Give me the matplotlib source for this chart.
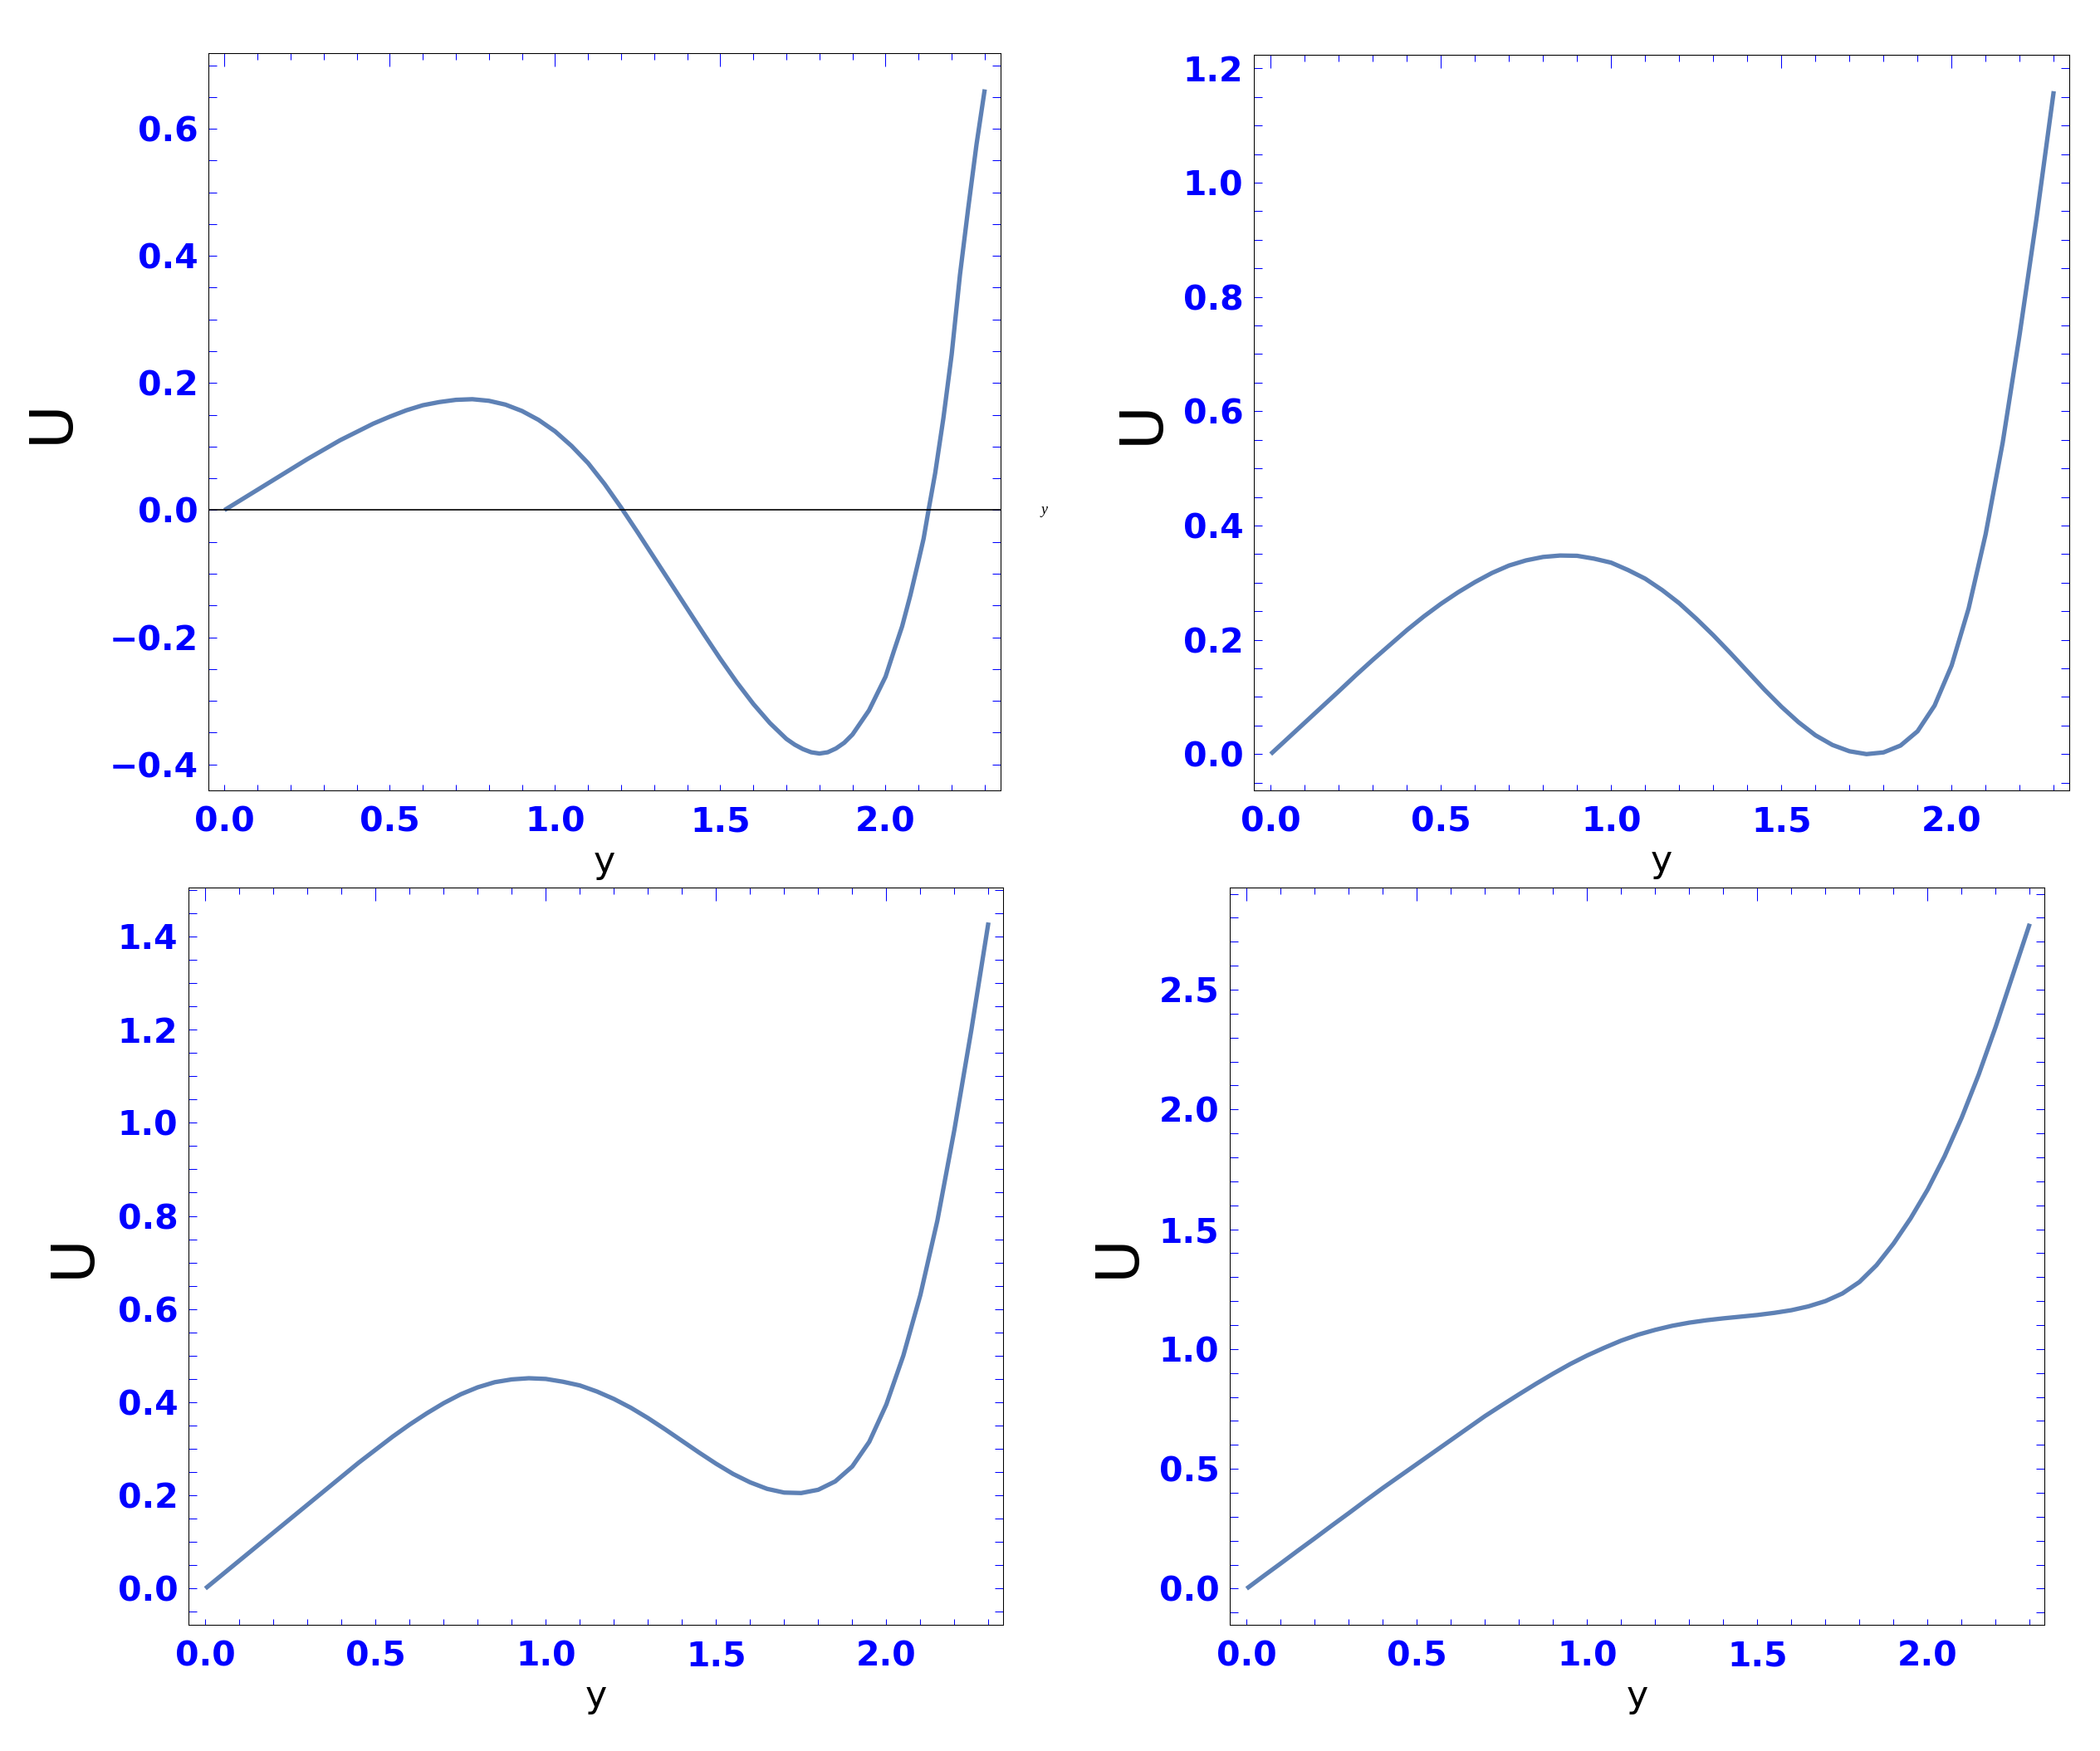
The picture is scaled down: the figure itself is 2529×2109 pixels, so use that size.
import matplotlib
matplotlib.use("Agg")
import matplotlib.pyplot as plt
from matplotlib.ticker import MultipleLocator, FuncFormatter

# curve values: y (abscissa) and U
y_a = [0, 0.05, 0.1, 0.15, 0.2, 0.25, 0.3, 0.35, 0.4, 0.45, 0.5, 0.55, 0.6, 0.65, 0.7,
       0.75, 0.8, 0.85, 0.9, 0.95, 1.0, 1.05, 1.1, 1.15, 1.2, 1.25, 1.3, 1.35, 1.4, 1.45,
       1.5, 1.55, 1.6, 1.65, 1.7, 1.725, 1.75, 1.775, 1.8, 1.825, 1.85, 1.875, 1.9, 1.95,
       2.0, 2.025, 2.05, 2.075, 2.1, 2.115, 2.13, 2.15, 2.175, 2.2, 2.225, 2.25, 2.275, 2.3]
u_a = [0, 0.016, 0.032, 0.048, 0.064, 0.080, 0.095, 0.110, 0.123, 0.136, 0.147, 0.157,
       0.165, 0.170, 0.1735, 0.1745, 0.172, 0.166, 0.156, 0.142, 0.124, 0.101, 0.074,
       0.041, 0.004, -0.035, -0.075, -0.115, -0.155, -0.195, -0.234, -0.271, -0.305,
       -0.335, -0.360, -0.369, -0.376, -0.381, -0.383, -0.381, -0.375, -0.366, -0.353,
       -0.315, -0.262, -0.222, -0.183, -0.134, -0.079, -0.045, 0.0, 0.058, 0.145, 0.245,
       0.37, 0.475, 0.575, 0.662]

y_b = [0, 0.05, 0.1, 0.15, 0.2, 0.25, 0.3, 0.35, 0.4, 0.45, 0.5, 0.55, 0.6, 0.65, 0.7,
       0.75, 0.8, 0.85, 0.9, 0.95, 1.0, 1.05, 1.1, 1.15, 1.2, 1.25, 1.3, 1.35, 1.4, 1.45,
       1.5, 1.55, 1.6, 1.65, 1.7, 1.75, 1.8, 1.85, 1.9, 1.95, 2.0, 2.05, 2.1, 2.15, 2.2,
       2.25, 2.3]
u_b = [0, 0.0275, 0.055, 0.0825, 0.11, 0.138, 0.165, 0.191, 0.217, 0.241, 0.263, 0.283,
       0.301, 0.317, 0.330, 0.339, 0.345, 0.3475, 0.347, 0.342, 0.335, 0.322, 0.307,
       0.287, 0.264, 0.237, 0.208, 0.177, 0.145, 0.113, 0.083, 0.056, 0.033, 0.016, 0.005,
       0.0, 0.003, 0.015, 0.040, 0.085, 0.155, 0.255, 0.385, 0.545, 0.735, 0.94, 1.16]

y_c = [0, 0.05, 0.1, 0.15, 0.2, 0.25, 0.3, 0.35, 0.4, 0.45, 0.5, 0.55, 0.6, 0.65, 0.7,
       0.75, 0.8, 0.85, 0.9, 0.95, 1.0, 1.05, 1.1, 1.15, 1.2, 1.25, 1.3, 1.35, 1.4, 1.45,
       1.5, 1.55, 1.6, 1.65, 1.7, 1.75, 1.8, 1.85, 1.9, 1.95, 2.0, 2.05, 2.1, 2.15, 2.2,
       2.25, 2.3]
u_c = [0, 0.03, 0.06, 0.09, 0.12, 0.15, 0.18, 0.21, 0.24, 0.27, 0.298, 0.326, 0.352,
       0.376, 0.398, 0.417, 0.432, 0.443, 0.449, 0.4515, 0.450, 0.444, 0.436, 0.423,
       0.407, 0.388, 0.366, 0.342, 0.317, 0.292, 0.268, 0.246, 0.228, 0.214, 0.206, 0.205,
       0.212, 0.230, 0.262, 0.315, 0.395, 0.50, 0.63, 0.79, 0.985, 1.20, 1.43]

y_d = [0, 0.05, 0.1, 0.15, 0.2, 0.25, 0.3, 0.35, 0.4, 0.45, 0.5, 0.55, 0.6, 0.65, 0.7,
       0.75, 0.8, 0.85, 0.9, 0.95, 1.0, 1.05, 1.1, 1.15, 1.2, 1.25, 1.3, 1.35, 1.4, 1.45,
       1.5, 1.55, 1.6, 1.65, 1.7, 1.75, 1.8, 1.85, 1.9, 1.95, 2.0, 2.05, 2.1, 2.15, 2.2,
       2.25, 2.3]
u_d = [0, 0.053, 0.105, 0.158, 0.21, 0.263, 0.315, 0.368, 0.42, 0.47, 0.52, 0.57, 0.62,
       0.67, 0.72, 0.766, 0.811, 0.855, 0.897, 0.937, 0.973, 1.005, 1.035, 1.06, 1.08,
       1.097, 1.11, 1.12, 1.128, 1.135, 1.142, 1.151, 1.162, 1.178, 1.20, 1.232, 1.28,
       1.35, 1.44, 1.545, 1.665, 1.805, 1.965, 2.145, 2.345, 2.56, 2.775]

# ranges and tick steps per panel
xlims = [(-0.0485, 2.348), (-0.0495, 2.3456), (-0.0495, 2.343), (-0.0495, 2.343)]
ylims = [(-0.441, 0.719), (-0.0635, 1.2237), (-0.0779, 1.505), (-0.151, 2.926)]
ymajor = [0.2, 0.2, 0.2, 0.5]
yminor = [0.05, 0.05, 0.05, 0.1]

rects = [[0.09925, 0.5486, 0.37723, 0.42105],
         [0.59707, 0.5486, 0.38830, 0.42010],
         [0.08976, 0.07207, 0.38790, 0.42105],
         [0.58561, 0.07207, 0.38790, 0.42105]]
ulabel_x = [-0.198, -0.1375, -0.1417, -0.1376]

CURVE = "#5E81B5"
BLUE = "#0000FF"

plt.rcParams["font.family"] = ["DejaVu Sans"]
plt.rcParams["font.weight"] = "bold"
plt.rcParams["axes.unicode_minus"] = True


def fmt(v, pos):
    s = f"{v:.1f}"
    if s == "-0.0":
        s = "0.0"
    return s.replace("-", "\u2212")


fig = plt.figure(figsize=(25.29, 21.09), dpi=100)

data = [(y_a, u_a), (y_b, u_b), (y_c, u_c), (y_d, u_d)]
for i, (xs, us) in enumerate(data):
    ax = fig.add_axes(rects[i])
    ax.plot(xs, us, color=CURVE, lw=3.8, solid_joinstyle="round", solid_capstyle="butt", zorder=2)
    ax.set_xlim(*xlims[i])
    ax.set_ylim(*ylims[i])

    ax.xaxis.set_major_locator(MultipleLocator(0.5))
    ax.xaxis.set_minor_locator(MultipleLocator(0.1))
    ax.yaxis.set_major_locator(MultipleLocator(ymajor[i]))
    ax.yaxis.set_minor_locator(MultipleLocator(yminor[i]))
    ax.xaxis.set_major_formatter(FuncFormatter(fmt))
    ax.yaxis.set_major_formatter(FuncFormatter(fmt))

    ax.tick_params(axis="x", which="both", direction="in", bottom=True, top=False,
                   length=5, width=0.75, color=BLUE, labelcolor=BLUE, labelsize=29.5, pad=13.5)
    ax.tick_params(axis="y", which="both", direction="in", left=True, right=True,
                   length=7.5, width=0.75, color=BLUE, labelcolor=BLUE, labelsize=29.5, pad=9)
    for sp in ax.spines.values():
        sp.set_linewidth(0.75)
        sp.set_color("black")

    # top frame ticks: longer majors, no labels
    sec = ax.secondary_xaxis("top")
    sec.xaxis.set_major_locator(MultipleLocator(0.5))
    sec.xaxis.set_minor_locator(MultipleLocator(0.1))
    sec.tick_params(axis="x", which="major", direction="in", length=11.5, width=0.75,
                    color=BLUE, labeltop=False)
    sec.tick_params(axis="x", which="minor", direction="in", length=6, width=0.75, color=BLUE)
    for sp in sec.spines.values():
        sp.set_linewidth(0.75)

    ax.set_xlabel("y", fontsize=32, fontweight="normal", color="black", va="center")
    ax.xaxis.set_label_coords(0.5, -0.097)
    ax.set_ylabel("U", fontsize=52, fontweight="normal", color="black", va="center")
    ax.yaxis.set_label_coords(ulabel_x[i], 0.5)

    if i == 0:
        ax.axhline(0, color="black", lw=1.2, zorder=3)
        ax.text(1.0545, 0, "y", transform=ax.get_yaxis_transform(), ha="center", va="center",
                fontsize=13, fontweight="normal", fontstyle="italic",
                family=["Liberation Serif", "DejaVu Serif"], clip_on=False)

fig.savefig("out.png", dpi=100, facecolor="white")
